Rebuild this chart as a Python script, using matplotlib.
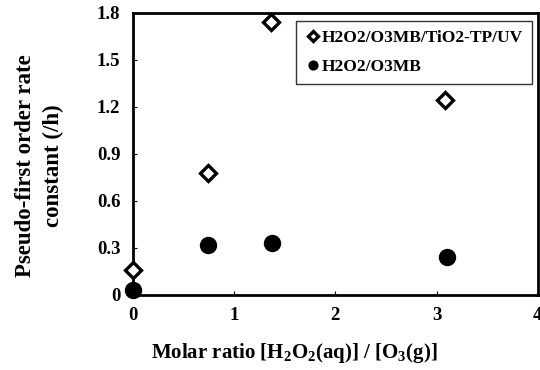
import matplotlib.pyplot as plt

# data
ratio_uv = [0.0, 0.74, 1.36, 3.08]
k_uv = [0.16, 0.78, 1.74, 1.245]
ratio_mb = [0.0, 0.74, 1.37, 3.1]
k_mb = [0.03, 0.32, 0.33, 0.24]

xticks = [0, 1, 2, 3, 4]
yticks = [0, 0.3, 0.6, 0.9, 1.2, 1.5, 1.8]
ytick_labels = ['0', '0.3', '0.6', '0.9', '1.2', '1.5', '1.8']

plt.rcParams['font.family'] = ['Liberation Serif', 'DejaVu Serif']
plt.rcParams['font.weight'] = 'bold'
plt.rcParams['mathtext.fontset'] = 'custom'
plt.rcParams['mathtext.rm'] = 'Liberation Serif:bold'
plt.rcParams['mathtext.it'] = 'Liberation Serif:bold'
plt.rcParams['mathtext.bf'] = 'Liberation Serif:bold'

fig = plt.figure(figsize=(5.4, 3.7), dpi=100)
ax = fig.add_axes([0.246, 0.203, 0.75, 0.762])

ax.plot(ratio_uv, k_uv, linestyle='none', marker='D', markersize=8.5,
        markerfacecolor='white', markeredgecolor='black', markeredgewidth=2.4,
        label='H2O2/O3MB/TiO2-TP/UV', clip_on=False, zorder=3)
ax.plot(ratio_mb, k_mb, linestyle='none', marker='o', markersize=11.5,
        color='black', label='H2O2/O3MB', clip_on=False, zorder=3)

ax.set_xlim(0, 4)
ax.set_ylim(0, 1.8)
ax.set_xticks(xticks)
ax.set_yticks(yticks)
ax.set_yticklabels(ytick_labels)
ax.tick_params(direction='in', length=3, width=0.8, labelsize=13.5)
ax.tick_params(axis='x', pad=9)
ax.tick_params(axis='y', pad=9)

for s in ax.spines.values():
    s.set_linewidth(2)

ax.set_xlabel(r'Molar ratio [H$_2$O$_2$(aq)] / [O$_3$(g)]', fontsize=15,
              fontweight='bold')
ax.xaxis.set_label_coords(0.398, -0.165)
ax.set_ylabel('Pseudo-first order rate\nconstant (/h)', fontsize=16.5,
              fontweight='bold', linespacing=1.4)
ax.yaxis.set_label_coords(-0.17, 0.46)

leg = ax.legend(loc='upper right', bbox_to_anchor=(0.985, 0.97), fontsize=12.5,
                handletextpad=0.0, handlelength=1.0, borderpad=0.5,
                labelspacing=0.75, fancybox=False, edgecolor='black',
                markerscale=0.55, borderaxespad=0.0)
leg.get_frame().set_linewidth(1.0)

fig.savefig('out.png', dpi=100)
